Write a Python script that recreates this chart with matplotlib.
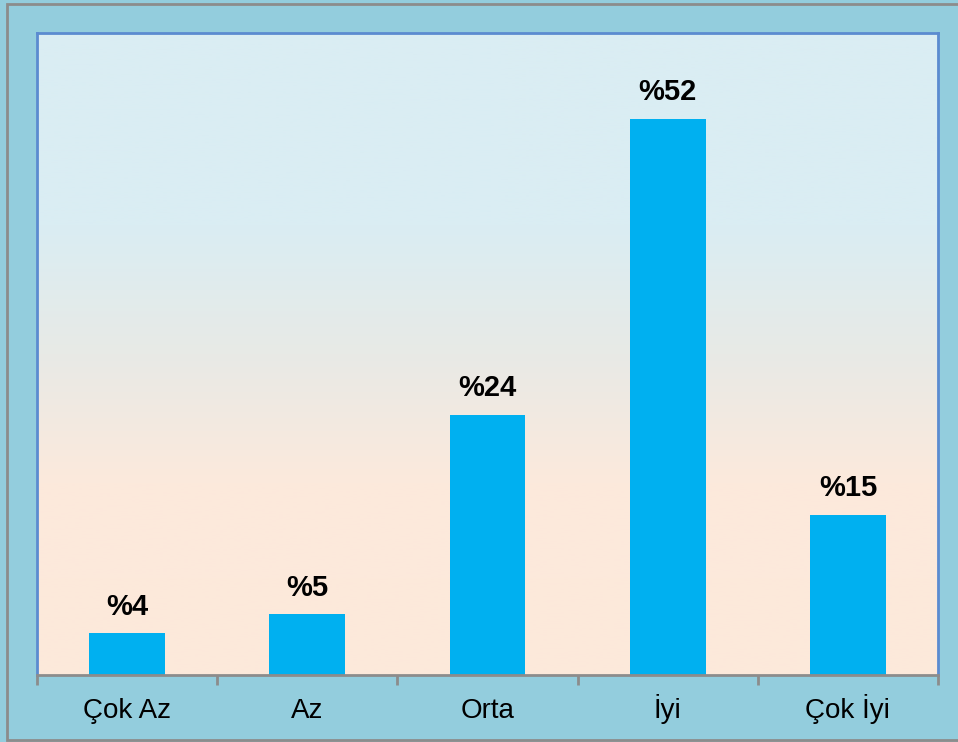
import numpy as np
import matplotlib
matplotlib.use("Agg")
import matplotlib.pyplot as plt
from matplotlib.colors import LinearSegmentedColormap, to_rgb
from matplotlib.patches import Rectangle
from matplotlib.transforms import blended_transform_factory

categories = ["Çok Az", "Az", "Orta", "İyi", "Çok İyi"]
values = [3.9, 5.7, 24.3, 52, 15]
labels = ["%4", "%5", "%24", "%52", "%15"]

plt.rcParams['font.family'] = ['Liberation Sans', 'DejaVu Sans']

W, H = 958, 742
fig = plt.figure(figsize=(W / 100, H / 100), dpi=100)
fig.patch.set_facecolor("#93CDDD")

# outer border
fig.patches.append(Rectangle((7 / W, 1 - 740 / H), (W - 6) / W, (740 - 4) / H,
                             transform=fig.transFigure, fill=False,
                             edgecolor="#8C8C8C", linewidth=2, zorder=10))

left, right, top, bottom = 37, 938, 33, 675
ax = fig.add_axes([left / W, 1 - bottom / H, (right - left) / W, (bottom - top) / H])

n = len(categories)
ymax = 60

# gradient background (row 0 at top)
cmap = LinearSegmentedColormap.from_list("bg", [
    (0.0, to_rgb("#DAEDF3")),
    (0.30, to_rgb("#DAEDF3")),
    (0.50, to_rgb("#E8EAE6")),
    (0.70, to_rgb("#FCE9DC")),
    (1.0, to_rgb("#FDE9DA")),
])
grad = np.linspace(0, 1, 256).reshape(-1, 1)
ax.imshow(grad, cmap=cmap, aspect="auto", extent=[0, n, 0, ymax],
          origin="upper", zorder=0)
ax.set_xlim(0, n)
ax.set_ylim(0, ymax)

x = np.arange(n) + 0.5
ax.bar(x, values, width=0.42, color="#00B0F0", zorder=2)
for xi, v, lab in zip(x, values, labels):
    ax.annotate(lab, (xi, v), xytext=(0, 9), textcoords="offset points",
                ha="center", va="bottom", fontsize=21, fontweight="bold", color="black")

ax.set_yticks([])
ax.set_xticks(np.arange(n + 1))
ax.set_xticklabels([])
ax.tick_params(axis="x", which="major", length=7, width=2, color="#8C8C8C", direction="out")

trans = blended_transform_factory(ax.transData, ax.transAxes)
for xi, cat in zip(x, categories):
    ax.text(xi, -43 / (bottom - top), cat, transform=trans, ha="center",
            va="baseline", fontsize=20, color="black")

for s in ["left", "top", "right"]:
    ax.spines[s].set_color("#5B8BD0")
    ax.spines[s].set_linewidth(2)
ax.spines["bottom"].set_color("#8C8C8C")
ax.spines["bottom"].set_linewidth(2)

fig.savefig("out.png", dpi=100, facecolor=fig.get_facecolor())
